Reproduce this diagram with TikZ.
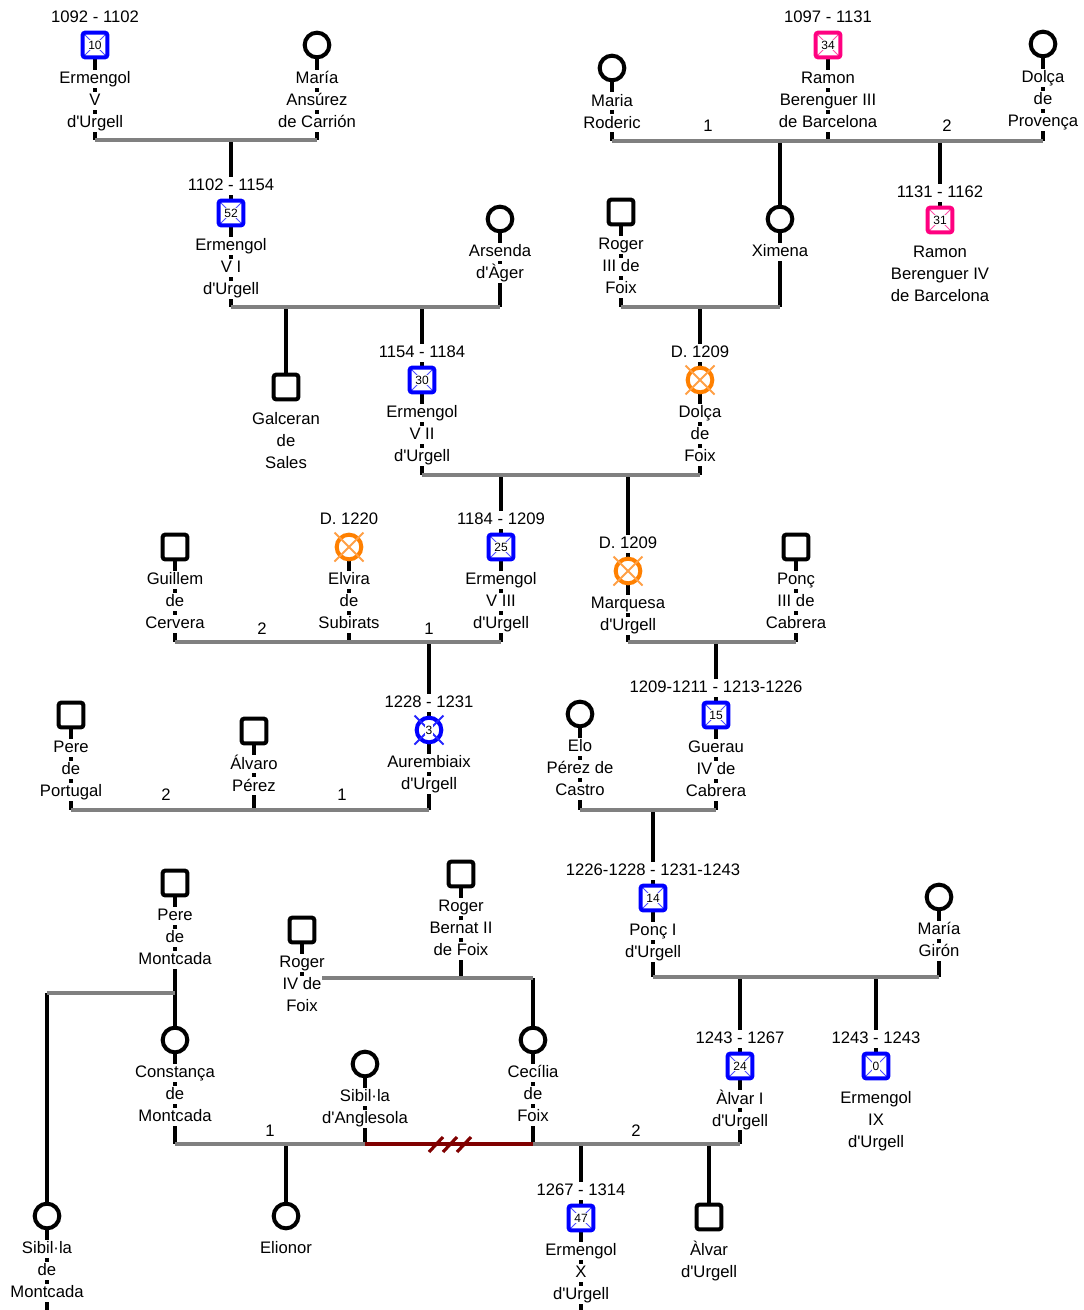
\documentclass[tikz,border=0pt]{standalone}
\usepackage{fontspec}
\newfontfamily\lsans{Liberation Sans}
\usetikzlibrary{backgrounds}
\definecolor{cblue}{RGB}{0,0,255}
\definecolor{cpink}{RGB}{255,0,128}
\definecolor{corange}{RGB}{255,128,0}
\definecolor{cxor}{RGB}{255,160,70}
\definecolor{cgray}{RGB}{128,128,128}
\definecolor{cmaroon}{RGB}{128,0,0}
\newcommand\wl[1]{{\setlength{\fboxsep}{0pt}\colorbox{white}{\hspace{0.6pt}\rule[-3pt]{0pt}{13.5pt}#1\hspace{0.6pt}}}}
\newcommand\nm[1]{{\setlength{\fboxsep}{0.6pt}\colorbox{white}{#1}}}
\newcommand\xcross[2]{\draw[#2, line width=1.4pt] ([shift={(-14.5,-14.5)}]#1.center) -- ([shift={(14.5,14.5)}]#1.center) ([shift={(14.5,-14.5)}]#1.center) -- ([shift={(-14.5,14.5)}]#1.center);}
\begin{document}
\begin{tikzpicture}[x=0.75pt,y=-0.75pt,
  txt/.style={font=\lsans\fontsize{12.5}{16.5}\selectfont, align=center, inner sep=0pt, anchor=north, yshift=10.5pt},
  num/.style={font=\lsans\fontsize{12.5}{16.5}\selectfont, inner sep=0pt, anchor=base},
  sq/.style={rectangle, rounded corners=1.8pt, draw=black, line width=3pt, minimum size=18.5pt, inner sep=0pt, fill=white, font=\lsans\fontsize{9}{9}\selectfont},
  ci/.style={circle, draw=black, line width=3pt, minimum size=18.5pt, inner sep=0pt, fill=white, font=\lsans\fontsize{9}{9}\selectfont},
  diag/.style={path picture={\draw[#1, line width=0.6pt] (path picture bounding box.north west) -- (path picture bounding box.south east) (path picture bounding box.north east) -- (path picture bounding box.south west);}},
  bsq/.style={sq, draw=cblue, diag=cblue!70},
  psq/.style={sq, draw=cpink, diag=cpink!70},
  oci/.style={ci, draw=corange},
  bci/.style={ci, draw=cblue},
  stem/.style={line width=3pt, black},
  bar/.style={line width=3pt, cgray},
]
\useasboundingbox (0,0) rectangle (1084,1310);

% ---------- Row 1
\node[bsq] (ErmV) at (95,45) {\nm{10}};
\node[txt] (ErmVd) at (95,22.5) {\wl{1092 - 1102}};
\node[txt] (ErmVt) at (95,83.5) {\wl{Ermengol}\\\wl{V}\\\wl{d'Urgell}};
\node[ci] (MariaA) at (317,45) {};
\node[txt] (MariaAt) at (317,83.5) {\wl{María}\\\wl{Ansúrez}\\\wl{de Carrión}};
\node[ci] (MariaR) at (612,68) {};
\node[txt] (MariaRt) at (612,106) {\wl{Maria}\\\wl{Roderic}};
\node[psq] (RamonIII) at (828,45) {\nm{34}};
\node[txt] (RamonIIId) at (828,22.5) {\wl{1097 - 1131}};
\node[txt] (RamonIIIt) at (828,83.5) {\wl{Ramon}\\\wl{Berenguer III}\\\wl{de Barcelona}};
\node[ci] (DolcaP) at (1043,44) {};
\node[txt] (DolcaPt) at (1043,82.5) {\wl{Dolça}\\\wl{de}\\\wl{Provença}};
% ---------- Row 2
\node[bsq] (ErmVI) at (231,213) {\nm{52}};
\node[txt] (ErmVId) at (231,190.5) {\wl{1102 - 1154}};
\node[txt] (ErmVIt) at (231,250.5) {\wl{Ermengol}\\\wl{V I}\\\wl{d'Urgell}};
\node[ci] (Arsenda) at (500,219) {};
\node[txt] (Arsendat) at (500,256.5) {\wl{Arsenda}\\\wl{d'Àger}};
\node[sq] (RogerIII) at (621,212) {};
\node[txt] (RogerIIIt) at (621,249.5) {\wl{Roger}\\\wl{III de}\\\wl{Foix}};
\node[ci] (Ximena) at (780,219) {};
\node[txt] (Ximenat) at (780,256.5) {\wl{Ximena}};
\node[psq] (RamonIV) at (940,220) {\nm{31}};
\node[txt] (RamonIVd) at (940,197.5) {\wl{1131 - 1162}};
\node[txt] (RamonIVt) at (940,257.5) {\wl{Ramon}\\\wl{Berenguer IV}\\\wl{de Barcelona}};
% ---------- Row 3
\node[sq] (Galceran) at (286,387) {};
\node[txt] (Galcerant) at (286,424.5) {\wl{Galceran}\\\wl{de}\\\wl{Sales}};
\node[bsq] (ErmVII) at (422,380) {\nm{30}};
\node[txt] (ErmVIId) at (422,357.5) {\wl{1154 - 1184}};
\node[txt] (ErmVIIt) at (422,417.5) {\wl{Ermengol}\\\wl{V II}\\\wl{d'Urgell}};
\node[oci] (DolcaF) at (700,380) {};
\node[txt] (DolcaFd) at (700,357.5) {\wl{D. 1209}};
\node[txt] (DolcaFt) at (700,417.5) {\wl{Dolça}\\\wl{de}\\\wl{Foix}};
% ---------- Row 4
\node[sq] (Guillem) at (175,547) {};
\node[txt] (Guillemt) at (175,584.5) {\wl{Guillem}\\\wl{de}\\\wl{Cervera}};
\node[oci] (Elvira) at (349,547) {};
\node[txt] (Elvirad) at (349,524.5) {\wl{D. 1220}};
\node[txt] (Elvirat) at (349,584.5) {\wl{Elvira}\\\wl{de}\\\wl{Subirats}};
\node[bsq] (ErmVIII) at (501,547) {\nm{25}};
\node[txt] (ErmVIIId) at (501,524.5) {\wl{1184 - 1209}};
\node[txt] (ErmVIIIt) at (501,584.5) {\wl{Ermengol}\\\wl{V III}\\\wl{d'Urgell}};
\node[oci] (Marquesa) at (628,571) {};
\node[txt] (Marquesad) at (628,548.5) {\wl{D. 1209}};
\node[txt] (Marquesat) at (628,608.5) {\wl{Marquesa}\\\wl{d'Urgell}};
\node[sq] (PoncIII) at (796,547) {};
\node[txt] (PoncIIIt) at (796,584.5) {\wl{Ponç}\\\wl{III de}\\\wl{Cabrera}};
% ---------- Row 5
\node[sq] (PereP) at (71,715) {};
\node[txt] (PerePt) at (71,752.5) {\wl{Pere}\\\wl{de}\\\wl{Portugal}};
\node[sq] (Alvaro) at (254,731) {};
\node[txt] (Alvarot) at (254,768.5) {\wl{Álvaro}\\\wl{Pérez}};
\node[bci] (Aurembiaix) at (429,730) {};
\node[txt] (Aurembiaixd) at (429,707.5) {\wl{1228 - 1231}};
\node[txt] (Aurembiaixt) at (429,767.5) {\wl{Aurembiaix}\\\wl{d'Urgell}};
\node[ci] (Elo) at (580,714) {};
\node[txt] (Elot) at (580,751.5) {\wl{Elo}\\\wl{Pérez de}\\\wl{Castro}};
\node[bsq] (Guerau) at (716,715) {\nm{15}};
\node[txt] (Guueraud) at (716,692.5) {\wl{1209-1211 - 1213-1226}};
\node[txt] (Gueraut) at (716,752.5) {\wl{Guerau}\\\wl{IV de}\\\wl{Cabrera}};
% ---------- Row 6
\node[sq] (PereM) at (175,883) {};
\node[txt] (PereMt) at (175,920.5) {\wl{Pere}\\\wl{de}\\\wl{Montcada}};
\node[sq] (RogerIV) at (302,930) {};
\node[txt] (RogerIVt) at (302,967.5) {\wl{Roger}\\\wl{IV de}\\\wl{Foix}};
\node[sq] (RogerB) at (461,874) {};
\node[txt] (RogerBt) at (461,911.5) {\wl{Roger}\\\wl{Bernat II}\\\wl{de Foix}};
\node[bsq] (PoncI) at (653,898) {\nm{14}};
\node[txt] (PoncId) at (653,875.5) {\wl{1226-1228 - 1231-1243}};
\node[txt] (PoncIt) at (653,935.5) {\wl{Ponç I}\\\wl{d'Urgell}};
\node[ci] (MariaG) at (939,897) {};
\node[txt] (MariaGt) at (939,934.5) {\wl{María}\\\wl{Girón}};
% ---------- Row 7
\node[ci] (Constanca) at (175,1040) {};
\node[txt] (Constancat) at (175,1077.5) {\wl{Constança}\\\wl{de}\\\wl{Montcada}};
\node[ci] (SibilA) at (365,1064) {};
\node[txt] (SibilAt) at (365,1101.5) {\wl{Sibil·la}\\\wl{d'Anglesola}};
\node[ci] (Cecilia) at (533,1040) {};
\node[txt] (Ceciliat) at (533,1077.5) {\wl{Cecília}\\\wl{de}\\\wl{Foix}};
\node[bsq] (AlvarI) at (740,1066) {\nm{24}};
\node[txt] (AlvarId) at (740,1043.5) {\wl{1243 - 1267}};
\node[txt] (AlvarIt) at (740,1103.5) {\wl{Àlvar I}\\\wl{d'Urgell}};
\node[bsq] (ErmIX) at (876,1066) {\nm{0}};
\node[txt] (ErmIXd) at (876,1043.5) {\wl{1243 - 1243}};
\node[txt] (ErmIXt) at (876,1103.5) {\wl{Ermengol}\\\wl{IX}\\\wl{d'Urgell}};
% ---------- Row 8
\node[ci] (SibilM) at (47,1216) {};
\node[txt] (SibilMt) at (47,1253.5) {\wl{Sibil·la}\\\wl{de}\\\wl{Montcada}};
\node[ci] (Elionor) at (286,1216) {};
\node[txt] (Elionort) at (286,1253.5) {\wl{Elionor}};
\node[bsq] (ErmX) at (581,1218) {\nm{47}};
\node[txt] (ErmXd) at (581,1195.5) {\wl{1267 - 1314}};
\node[txt] (ErmXt) at (581,1255.5) {\wl{Ermengol}\\\wl{X}\\\wl{d'Urgell}};
\node[sq] (AlvarU) at (709,1217) {};
\node[txt] (AlvarUt) at (709,1254.5) {\wl{Àlvar}\\\wl{d'Urgell}};

% crosses on deceased symbols
\xcross{DolcaF}{cxor}
\xcross{Elvira}{cxor}
\xcross{Marquesa}{cxor}
\xcross{Aurembiaix}{cblue!85}
\node[font=\lsans\fontsize{9}{9}\selectfont, inner sep=0pt] (AurN) at (Aurembiaix.center) {\nm{3}};

% marriage numbers
\node[num] (n1a) at (708,131) {1};
\node[num] (n1b) at (947,131) {2};
\node[num] (n2a) at (262,634) {2};
\node[num] (n2b) at (429,634) {1};
\node[num] (n3a) at (166,800.5) {2};
\node[num] (n3b) at (342,800.5) {1};
\node[num] (n4a) at (270,1136) {1};
\node[num] (n4b) at (636,1136) {2};

% bar levels
\coordinate (b1) at (0,140);
\coordinate (b2) at (0,141);
\coordinate (b3) at (0,307);
\coordinate (b5) at (0,475);
\coordinate (b6) at (0,642);
\coordinate (b8) at (0,810);
\coordinate (b10) at (0,993);
\coordinate (b11) at (0,978);
\coordinate (b12) at (0,977);
\coordinate (b13) at (0,1144);
\coordinate (bot) at (0,1310);

\begin{pgfonlayer}{background}
\fill[white] (0,0) rectangle (1084,1310);
% stems from persons to their bars
\draw[stem] (ErmV) -- (ErmV |- b1);
\draw[stem] (MariaA) -- (MariaA |- b1);
\draw[stem] (ErmVI |- b1) -- (ErmVI);
\draw[stem] (MariaR) -- (MariaR |- b2);
\draw[stem] (RamonIII) -- (RamonIII |- b2);
\draw[stem] (DolcaP) -- (DolcaP |- b2);
\draw[stem] (Ximena |- b2) -- (Ximena);
\draw[stem] (RamonIV |- b2) -- (RamonIV);
\draw[stem] (ErmVI) -- (ErmVI |- b3);
\draw[stem] (Arsenda) -- (Arsenda |- b3);
\draw[stem] (Galceran |- b3) -- (Galceran);
\draw[stem] (ErmVII |- b3) -- (ErmVII);
\draw[stem] (RogerIII) -- (RogerIII |- b3);
\draw[stem] (Ximena) -- (Ximena |- b3);
\draw[stem] (DolcaF |- b3) -- (DolcaF);
\draw[stem] (ErmVII) -- (ErmVII |- b5);
\draw[stem] (DolcaF) -- (DolcaF |- b5);
\draw[stem] (ErmVIII |- b5) -- (ErmVIII);
\draw[stem] (Marquesa |- b5) -- (Marquesa);
\draw[stem] (Guillem) -- (Guillem |- b6);
\draw[stem] (Elvira) -- (Elvira |- b6);
\draw[stem] (ErmVIII) -- (ErmVIII |- b6);
\draw[stem] (Aurembiaix |- b6) -- (Aurembiaix);
\draw[stem] (Marquesa) -- (Marquesa |- b6);
\draw[stem] (PoncIII) -- (PoncIII |- b6);
\draw[stem] (Guerau |- b6) -- (Guerau);
\draw[stem] (PereP) -- (PereP |- b8);
\draw[stem] (Alvaro) -- (Alvaro |- b8);
\draw[stem] (Aurembiaix) -- (Aurembiaix |- b8);
\draw[stem] (Elo) -- (Elo |- b8);
\draw[stem] (Guerau) -- (Guerau |- b8);
\draw[stem] (PoncI |- b8) -- (PoncI);
\draw[stem] (PereM) -- (PereM |- b10);
\draw[stem] (Constanca |- b10) -- (Constanca);
\draw[stem] (SibilM |- b10) -- (SibilM);
\draw[stem] (RogerIV) -- (RogerIV |- b11);
\draw[stem] (RogerB) -- (RogerB |- b11);
\draw[stem] (Cecilia |- b11) -- (Cecilia);
\draw[stem] (PoncI) -- (PoncI |- b12);
\draw[stem] (MariaG) -- (MariaG |- b12);
\draw[stem] (AlvarI |- b12) -- (AlvarI);
\draw[stem] (ErmIX |- b12) -- (ErmIX);
\draw[stem] (Constanca) -- (Constanca |- b13);
\draw[stem] (SibilA) -- (SibilA |- b13);
\draw[stem] (Cecilia) -- (Cecilia |- b13);
\draw[stem] (AlvarI) -- (AlvarI |- b13);
\draw[stem] (Elionor |- b13) -- (Elionor);
\draw[stem] (ErmX |- b13) -- (ErmX);
\draw[stem] (AlvarU |- b13) -- (AlvarU);
\draw[stem] (SibilM) -- (SibilM |- bot);
\draw[stem] (ErmX) -- (ErmX |- bot);
% bars
\draw[bar] (ErmV |- b1) -- (MariaA |- b1);
\draw[bar] (MariaR |- b2) -- (DolcaP |- b2);
\draw[bar] (ErmVI |- b3) -- (Arsenda |- b3);
\draw[bar] (RogerIII |- b3) -- (Ximena |- b3);
\draw[bar] (ErmVII |- b5) -- (DolcaF |- b5);
\draw[bar] (Guillem |- b6) -- (ErmVIII |- b6);
\draw[bar] (Marquesa |- b6) -- (PoncIII |- b6);
\draw[bar] (PereP |- b8) -- (Aurembiaix |- b8);
\draw[bar] (Elo |- b8) -- (Guerau |- b8);
\draw[bar] (SibilM |- b10) -- (PereM |- b10);
\draw[bar] (RogerIV |- b11) -- (Cecilia |- b11);
\draw[bar] (PoncI |- b12) -- (MariaG |- b12);
\draw[bar] (Constanca |- b13) -- (SibilA |- b13);
\draw[bar] (Cecilia |- b13) -- (AlvarI |- b13);
\draw[line width=3pt, cmaroon] (SibilA |- b13) -- (Cecilia |- b13);
\foreach \sx in {436,450,464}{
  \draw[line width=2.4pt, cmaroon] (\sx-7,1152) -- (\sx+7,1137);
}
\end{pgfonlayer}
\end{tikzpicture}
\end{document}
